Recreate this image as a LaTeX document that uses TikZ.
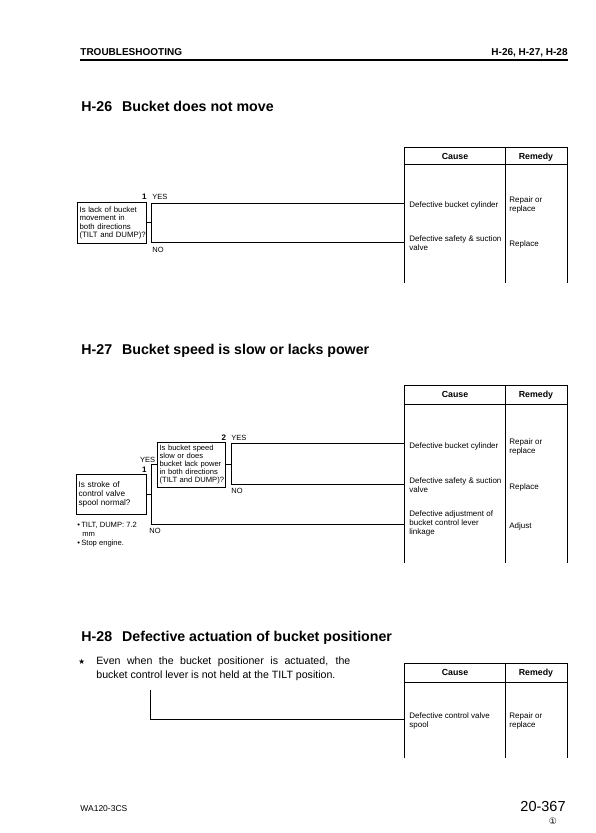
\documentclass[tikz,border=0pt]{standalone}
\usepackage{fontspec}
\setmainfont{Liberation Sans}
\newfontfamily\dejavu{DejaVu Sans}
\begin{document}
\begin{tikzpicture}[x=1pt,y=-1pt,line width=0.8pt,
  every node/.style={inner sep=0pt},
  sm/.style={font=\fontsize{7.5}{8.6}\selectfont},
  tb/.style={font=\fontsize{8}{9}\selectfont},
  hb/.style={font=\bfseries\fontsize{8.8}{10}\selectfont,anchor=base},
  numb/.style={font=\bfseries\fontsize{8}{9}\selectfont,anchor=base east},
  txt/.style={tb,anchor=north west,align=left},
  lbl/.style={sm,anchor=base west},
  qbox/.style={draw,sm,anchor=north west,align=left,inner xsep=2.2pt},
  htitle/.style={font=\bfseries\fontsize{14.2}{16}\selectfont,anchor=base west},
  head/.style={font=\bfseries\fontsize{10}{12}\selectfont}]
\useasboundingbox (0,0) rectangle (595,833);

% ---------- page header ----------
\node[head,anchor=base west] (hl) at (80,55.5) {TROUBLESHOOTING};
\node[head,anchor=base east] (hr) at (568,55.5) {H-26, H-27, H-28};
\path (hl.base west) ++(0,4.5) coordinate (rl) (hr.base east) ++(0,4.5) coordinate (rr);
\draw[line width=1.3pt] (rl) -- (rr);

% ================= H-26 =================
\node[htitle] (t26) at (81,111) {H-26\hspace{10pt}Bucket does not move};

% table
\draw (404,283) -- (404,147) -- (567,147) -- (567,283);
\draw (404,164) -- (567,164);
\draw (505,147) -- (505,283);
\node[hb] (c26h) at (455,159) {Cause};
\node[hb] (r26h) at (536,159) {Remedy};
\node[txt] (c26a) at (409,201.2) {Defective bucket cylinder};
\node[txt] (r26a) at (509,196.2) {Repair or\\replace};
\node[txt] (c26b) at (409,235.2) {Defective safety \& suction\\valve};
\node[txt] (r26b) at (509,240.2) {Replace};
\coordinate (e26a) at (404,203);
\coordinate (e26b) at (404,242);

% flow
\node[qbox,text width=64.6pt,inner ysep=3.95pt,font=\fontsize{7.8}{8.6}\selectfont] (q26) at (77,202) {\mbox{Is lack of bucket}\\\mbox{movement in}\\\mbox{both directions}\\\mbox{(TILT and DUMP)?}};
\node[numb] (n26) at (147,199.5) {1};
\node[lbl] (y26) at (152,199.5) {YES};
\node[lbl] (no26) at (152,252) {NO};
\coordinate (j26t) at (151,203);
\coordinate (j26b) at (151,242);
\draw (q26.east) -- (q26.east -| j26t);
\draw (j26t) -- (j26b);
\draw (j26t) -- (e26a);
\draw (j26b) -- (e26b);

% ================= H-27 =================
\node[htitle] (t27) at (81,354) {H-27\hspace{10pt}Bucket speed is slow or lacks power};

\draw (404,563) -- (404,385) -- (567,385) -- (567,563);
\draw (404,404) -- (567,404);
\draw (505,385) -- (505,563);
\node[hb] (c27h) at (455,397.5) {Cause};
\node[hb] (r27h) at (536,397.5) {Remedy};
\node[txt] (c27a) at (409,442.2) {Defective bucket cylinder};
\node[txt] (r27a) at (509,438.2) {Repair or\\replace};
\node[txt] (c27b) at (409,477.2) {Defective safety \& suction\\valve};
\node[txt] (r27b) at (509,483.2) {Replace};
\node[txt] (c27c) at (409,510.2) {Defective adjustment of\\bucket control lever\\linkage};
\node[txt] (r27c) at (509,522.2) {Adjust};
\coordinate (e27a) at (404,443);
\coordinate (e27b) at (404,484);
\coordinate (e27c) at (404,524);

% question 1
\node[qbox,text width=65.6pt,inner ysep=6.85pt,font=\fontsize{8.2}{9.3}\selectfont] (q27a) at (76,474) {\mbox{Is stroke of}\\\mbox{control valve}\\\mbox{spool normal?}};
\node[numb] (n27a) at (147,472) {1};
\node[sm,anchor=base east] (y27a) at (155.5,462.5) {YES};
\node[lbl] (no27a) at (149,533) {NO};
\node[anchor=north west,align=left,font=\fontsize{7.6}{9}\selectfont] (note27) at (77,521.5) {•\,TILT, DUMP: 7.2\\\hspace*{5pt}mm\\•\,Stop engine.};

% question 2
\node[qbox,text width=63.6pt,inner ysep=2.9pt,font=\fontsize{7.6}{8}\selectfont] (q27b) at (157,442) {\mbox{Is bucket speed}\\\mbox{slow or does}\\\mbox{bucket lack power}\\\mbox{in both directions}\\\mbox{(TILT and DUMP)?}};
\node[numb] (n27b) at (226.5,440) {2};
\node[lbl] (y27b) at (231,440) {YES};
\node[lbl] (no27b) at (231,493) {NO};

\coordinate (j27n) at (151,524);
\draw (q27b.west) -| (j27n);
\draw (q27a.east) -- (q27a.east -| j27n);
\draw (j27n) -- (e27c);
\coordinate (j27t) at (231,443);
\coordinate (j27b) at (231,484);
\draw (q27b.east) -- (q27b.east -| j27t);
\draw (j27t) -- (j27b);
\draw (j27t) -- (e27a);
\draw (j27b) -- (e27b);

% ================= H-28 =================
\node[htitle] (t28) at (81,641) {H-28\hspace{10pt}Defective actuation of bucket positioner};
\node[anchor=base west,font=\dejavu\fontsize{7.5}{8}\selectfont] (star) at (78,664) {★};
\node[anchor=north west,text width=254pt,align=justify,font=\fontsize{10.6}{14}\selectfont] (note28) at (96,656.3)
  {Even when the bucket positioner is actuated, the\linebreak bucket control lever is not held at the TILT position.};

\draw (404,758) -- (404,663) -- (567,663) -- (567,758);
\draw (404,682) -- (567,682);
\draw (505,663) -- (505,758);
\node[hb] (c28h) at (455,675.5) {Cause};
\node[hb] (r28h) at (536,675.5) {Remedy};
\node[txt] (c28a) at (409,712.2) {Defective control valve\\spool};
\node[txt] (r28a) at (509,712.2) {Repair or\\replace};
\coordinate (s28) at (150,690);
\coordinate (e28) at (404,719);
\draw (s28) |- (e28);

% ---------- footer ----------
\node[anchor=base west,font=\fontsize{8.5}{10}\selectfont] (fl) at (80,811) {WA120-3CS};
\node[anchor=base east,font=\fontsize{14.5}{16}\selectfont] (fr) at (566,811) {20-367};
\node[anchor=center,font=\dejavu\fontsize{9}{10}\selectfont] (fc) at (553,821) {①};
\end{tikzpicture}
\end{document}
